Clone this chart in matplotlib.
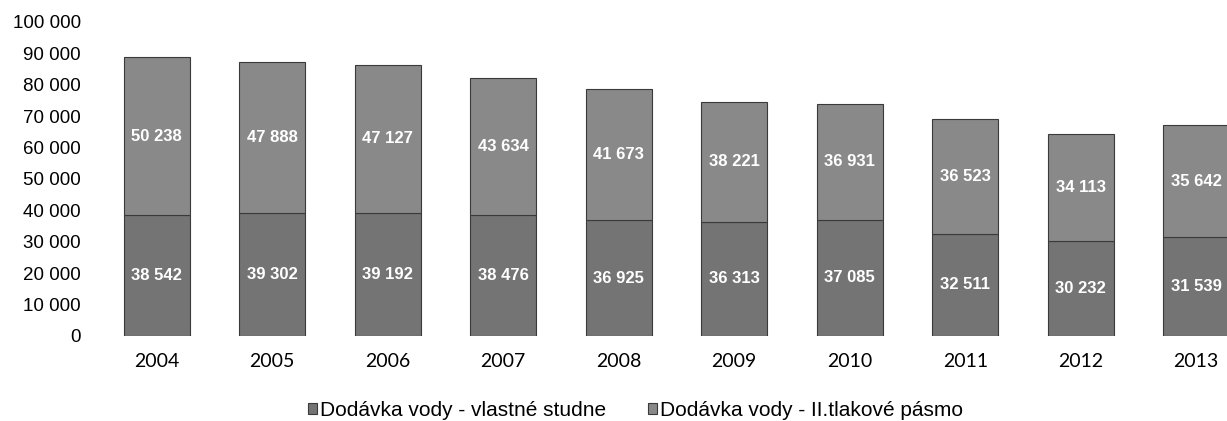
import numpy as np
import matplotlib.pyplot as plt
from matplotlib.ticker import FuncFormatter

# data
years = ['2004', '2005', '2006', '2007', '2008', '2009', '2010', '2011', '2012', '2013']
vlastne_studne = [38542, 39302, 39192, 38476, 36925, 36313, 37085, 32511, 30232, 31539]
tlakove_pasmo = [50238, 47888, 47127, 43634, 41673, 38221, 36931, 36523, 34113, 35642]
labels = ['Dodávka vody - vlastné studne', 'Dodávka vody - II.tlakové pásmo']

# plot properties
color_bottom = '#747474'
color_top = '#898989'
edge = '#3a3a3a'
bar_width = 0.57


def space_fmt(v, pos=None):
    return f'{int(round(v)):,}'.replace(',', ' ')


fig = plt.figure(figsize=(12.27, 4.21), dpi=100)
ax = fig.add_axes([99 / 1227, 85 / 421, 1155 / 1227, 314 / 421])

x = np.arange(len(years))
b1 = ax.bar(x, vlastne_studne, width=bar_width, color=color_bottom,
            edgecolor=edge, linewidth=0.8, label=labels[0])
b2 = ax.bar(x, tlakove_pasmo, width=bar_width, bottom=vlastne_studne,
            color=color_top, edgecolor=edge, linewidth=0.8, label=labels[1])

for bars, vals in [(b1, vlastne_studne), (b2, tlakove_pasmo)]:
    ax.bar_label(bars, labels=[space_fmt(v) for v in vals], label_type='center',
                 color='white', fontweight='bold', fontsize=12,
                 family='Liberation Sans')

ax.set_xlim(-0.5, 9.5)
ax.set_ylim(0, 100000)
ax.set_yticks(np.arange(0, 100001, 10000))
ax.yaxis.set_major_formatter(FuncFormatter(space_fmt))
ax.set_xticks(x)
ax.set_xticklabels(years, family='Lato', fontsize=14)
for lab in ax.get_yticklabels():
    lab.set_family('Liberation Sans')
    lab.set_fontsize(13.5)
ax.tick_params(axis='y', length=0, pad=13)
ax.tick_params(axis='x', length=0, pad=12)
for s in ax.spines.values():
    s.set_visible(False)

fig.legend(loc='center', bbox_to_anchor=(0.518, 0.025), ncol=2, frameon=False,
           prop={'family': 'Liberation Sans', 'size': 15},
           handlelength=0.45, handleheight=0.45, handletextpad=0.15,
           columnspacing=2.0, borderaxespad=0, borderpad=0)

fig.savefig('out.png', dpi=100)
